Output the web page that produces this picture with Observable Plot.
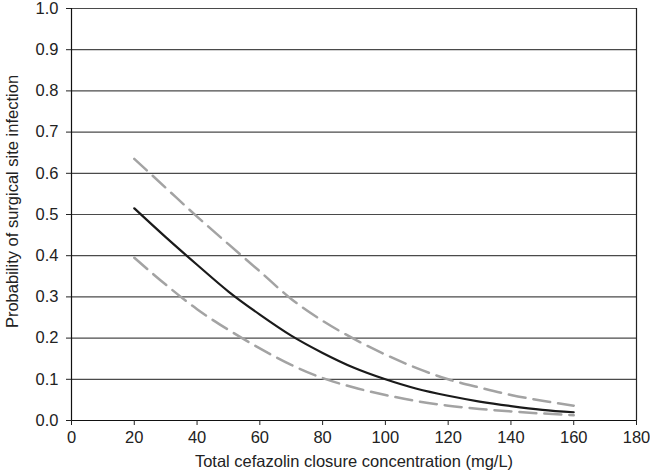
<!DOCTYPE html>
<html>
<head>
<meta charset="utf-8">
<script src="https://cdn.jsdelivr.net/npm/d3@7"></script>
<script src="https://cdn.jsdelivr.net/npm/@observablehq/plot@0.6"></script>
<style>
  html, body { margin: 0; padding: 0; background: #fff; }
  #chart svg { display: block; }
  #chart svg text { font-size: 16.5px; }
  #chart svg g[aria-label="x-axis label"] text, #chart svg g.ylabel text { font-size: 16.5px; }
</style>
</head>
<body>
<div id="chart"></div>
<script>
// Data
const concentration = [20, 30, 40, 50, 60, 70, 80, 90, 100, 110, 120, 130, 140, 150, 160];
const probMean  = [0.515, 0.445, 0.378, 0.313, 0.257, 0.206, 0.164, 0.128, 0.100, 0.077, 0.060, 0.046, 0.035, 0.026, 0.020];
const probUpper = [0.635, 0.565, 0.495, 0.428, 0.362, 0.295, 0.242, 0.198, 0.160, 0.127, 0.100, 0.080, 0.062, 0.048, 0.036];
const probLower = [0.395, 0.330, 0.270, 0.220, 0.175, 0.135, 0.103, 0.080, 0.062, 0.047, 0.036, 0.028, 0.022, 0.017, 0.013];
const xTicks = [0, 20, 40, 60, 80, 100, 120, 140, 160, 180];
const yTicks = [0.0, 0.1, 0.2, 0.3, 0.4, 0.5, 0.6, 0.7, 0.8, 0.9, 1.0];
const xLabel = "Total cefazolin closure concentration (mg/L)";
const yLabel = "Probability of surgical site infection";

const mean = concentration.map((c, i) => ({x: c, y: probMean[i]}));
const upper = concentration.map((c, i) => ({x: c, y: probUpper[i]}));
const lower = concentration.map((c, i) => ({x: c, y: probLower[i]}));

const chart = Plot.plot({
  width: 650,
  height: 473,
  marginLeft: 71,
  marginRight: 14,
  marginTop: 8,
  marginBottom: 53,
  style: {fontFamily: "'Liberation Sans', Arial, sans-serif", fontSize: "16.5px", color: "#222", background: "#fff"},
  x: {domain: [0, 180]},
  y: {domain: [0, 1]},
  marks: [
    Plot.ruleY(yTicks.filter(d => d > 0), {stroke: "#4a4a4a", strokeWidth: 1.2}),
    Plot.ruleX([180], {stroke: "#222", strokeWidth: 1.2}),
    Plot.ruleX([0], {stroke: "#111", strokeWidth: 1.2}),
    Plot.ruleY([0], {stroke: "#111", strokeWidth: 1.2}),
    Plot.axisX({ticks: xTicks, tickSize: 5, tickPadding: 6, tickFormat: d => String(d), fontSize: 16.5, label: xLabel, labelAnchor: "center", labelArrow: "none", labelOffset: 46}),
    Plot.axisY({ticks: yTicks, tickSize: 5, tickPadding: 8, tickFormat: d3.format(".1f"), fontSize: 16.5, label: null}),
    Plot.text([yLabel], {frameAnchor: "left", text: d => d, textAnchor: "middle", lineAnchor: "middle", rotate: -90, dx: -59, dy: -13, fontSize: 16.5, fill: "#222", className: "ylabel"}),
    Plot.line(upper, {x: "x", y: "y", stroke: "#a3a3a3", strokeWidth: 2.5, strokeDasharray: "17,8", curve: "monotone-x"}),
    Plot.line(lower, {x: "x", y: "y", stroke: "#a3a3a3", strokeWidth: 2.5, strokeDasharray: "17,8", curve: "monotone-x"}),
    Plot.line(mean, {x: "x", y: "y", stroke: "#1a1a1a", strokeWidth: 2.2, curve: "monotone-x"})
  ]
});
document.getElementById("chart").appendChild(chart);
</script>
</body>
</html>
